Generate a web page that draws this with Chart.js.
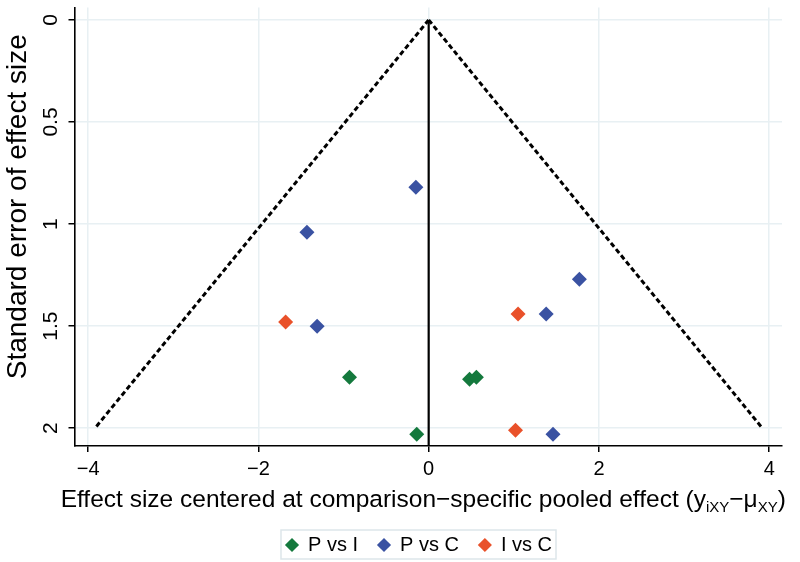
<!DOCTYPE html>
<html>
<head>
<meta charset="utf-8">
<script src="https://cdn.jsdelivr.net/npm/chart.js@4.4.1/dist/chart.umd.min.js"></script>
<style>
html,body{margin:0;padding:0;background:#fff;}
#wrap{width:800px;height:562px;position:relative;}
</style>
</head>
<body>
<div id="wrap"><canvas id="c"></canvas></div>
<script>
// ---- data ----
const seriesNames = ['P vs I', 'P vs C', 'I vs C'];
const pviX = [-0.93, -0.14, 0.48, 0.56];
const pviY = [1.75, 2.03, 1.76, 1.75];
const pvcX = [-0.15, -1.43, 1.77, 1.38, -1.31, 1.46];
const pvcY = [0.82, 1.04, 1.27, 1.44, 1.50, 2.03];
const ivcX = [-1.68, 1.05, 1.02];
const ivcY = [1.48, 1.44, 2.01];
const xTicks = [-4, -2, 0, 2, 4];
const yTicks = [0, 0.5, 1, 1.5, 2];
const funnelSE = [0, 2];
const zCrit = 1.96;
const pooledEffect = 0;
const xMin = -4.16, xMax = 4.15;
const yMin = -0.061, yMax = 2.087;
const xTitleParts = ['Effect size centered at comparison\u2212specific pooled effect (y', 'iXY', '\u2212\u03bc', 'XY', ')'];
const xTitleSub = [false, true, false, true, false];
const yTitle = 'Standard error of effect size';
const colors = ['#14793d', '#3a52a2', '#e9512a'];

const FONT = '"Liberation Sans", Arial, Helvetica, sans-serif';
const zip = (xs, ys) => xs.map((x, i) => ({x: x, y: ys[i]}));
const fmt = v => (v < 0 ? '\u2212' + Math.abs(v) : String(v));

const plotBottom = 446;
const padBottom = -3;
const legendShift = 28;

const titlePlugin = {
  id: 'titles',
  afterLayout(chart) {
    const lg = chart.legend;
    if (lg) { lg.left += legendShift; lg.right += legendShift; }
  },
  beforeDraw(chart) {
    const lg = chart.legend;
    if (!lg || !lg.legendHitBoxes || !lg.legendHitBoxes.length) return;
    const hb = lg.legendHitBoxes;
    const first = hb[0], last = hb[hb.length - 1];
    const cy = first.top + first.height / 2;
    const ctx = chart.ctx;
    ctx.save();
    ctx.fillStyle = '#ffffff';
    ctx.strokeStyle = '#dde6ea';
    ctx.lineWidth = 1.5;
    const l = first.left - 5, r = last.left + last.width + 4;
    ctx.fillRect(l, cy - 15, r - l, 29);
    ctx.strokeRect(l, cy - 15, r - l, 29);
    ctx.restore();
  },
  afterDraw(chart) {
    const ctx = chart.ctx;
    const ca = chart.chartArea;
    ctx.save();
    ctx.fillStyle = '#000';
    ctx.textAlign = 'left';
    ctx.textBaseline = 'alphabetic';
    const mainFont = '24.5px ' + FONT;
    const subFont = '15px ' + FONT;
    const widths = xTitleParts.map((t, i) => {
      ctx.font = xTitleSub[i] ? subFont : mainFont;
      return ctx.measureText(t).width;
    });
    const total = widths.reduce((a, b) => a + b, 0);
    let x = (ca.left + ca.right) / 2 - 5 - total / 2;
    const base = ca.bottom + 61;
    xTitleParts.forEach((t, i) => {
      ctx.font = xTitleSub[i] ? subFont : mainFont;
      ctx.fillText(t, x, xTitleSub[i] ? base + 5 : base);
      x += widths[i];
    });
    // y title
    ctx.translate(18, (ca.top + ca.bottom) / 2 - 20);
    ctx.rotate(-Math.PI / 2);
    ctx.textAlign = 'center';
    ctx.textBaseline = 'middle';
    ctx.font = '28px ' + FONT;
    ctx.fillText(yTitle, 0, 0);
    ctx.restore();
  }
};

const pointDs = (i, xs, ys) => ({
  label: seriesNames[i],
  data: zip(xs, ys),
  backgroundColor: colors[i],
  borderColor: colors[i],
  borderWidth: 0,
  pointStyle: 'rectRot',
  pointRadius: 7.5,
  pointHoverRadius: 7.5,
  order: 0
});

const lineDs = (label, data, dash, width) => ({
  type: 'line',
  label: label,
  data: data,
  borderColor: '#000',
  backgroundColor: '#000',
  borderWidth: width,
  borderDash: dash,
  pointRadius: 0,
  pointHoverRadius: 0,
  fill: false,
  tension: 0,
  showLine: true,
  order: 2
});

new Chart(document.getElementById('c'), {
  type: 'scatter',
  data: {
    datasets: [
      pointDs(0, pviX, pviY),
      pointDs(1, pvcX, pvcY),
      pointDs(2, ivcX, ivcY),
      lineDs('pooled', [{x: pooledEffect, y: funnelSE[0]}, {x: pooledEffect, y: yMax}], [], 2.2),
      lineDs('lower', funnelSE.map(se => ({x: pooledEffect - zCrit * se, y: se})), [5, 3], 3),
      lineDs('upper', funnelSE.map(se => ({x: pooledEffect + zCrit * se, y: se})), [5, 3], 3)
    ]
  },
  options: {
    responsive: true,
    maintainAspectRatio: false,
    animation: false,
    events: [],
    layout: {padding: {left: 0, right: 18, top: 0, bottom: padBottom}},
    plugins: {
      tooltip: {enabled: false},
      legend: {
        position: 'bottom',
        labels: {
          filter: item => item.datasetIndex < 3,
          usePointStyle: true,
          boxWidth: 12,
          boxHeight: 10,
          padding: 20,
          color: '#000',
          font: {family: FONT, size: 20}
        }
      }
    },
    scales: {
      x: {
        type: 'linear',
        min: xMin,
        max: xMax,
        afterBuildTicks: s => { s.ticks = xTicks.map(v => ({value: v})); },
        afterFit: s => {
          const lh = s.chart.legend && s.chart.legend.height ? s.chart.legend.height : 50;
          s.height = (s.chart.height - padBottom) - plotBottom - lh;
        },
        grid: {color: '#e8f0f3', lineWidth: 1.5, tickColor: '#000', tickLength: 6, tickWidth: 1.5},
        border: {display: true, color: '#000', width: 1.6},
        ticks: {
          color: '#000',
          padding: 5,
          maxRotation: 0,
          font: {family: FONT, size: 20},
          callback: v => fmt(v)
        }
      },
      y: {
        type: 'linear',
        reverse: true,
        min: yMin,
        max: yMax,
        afterBuildTicks: s => { s.ticks = yTicks.map(v => ({value: v})); },
        afterFit: s => { s.width = 74.5; s.paddingTop = 0; s.paddingBottom = 0; },
        grid: {color: '#e8f0f3', lineWidth: 1.5, tickColor: '#000', tickLength: 6, tickWidth: 1.5},
        border: {display: true, color: '#000', width: 1.6},
        ticks: {
          color: '#000',
          padding: 3,
          minRotation: 90,
          maxRotation: 90,
          crossAlign: 'center',
          font: {family: FONT, size: 21},
          callback: v => fmt(v)
        }
      }
    }
  },
  plugins: [titlePlugin]
});
</script>
</body>
</html>
